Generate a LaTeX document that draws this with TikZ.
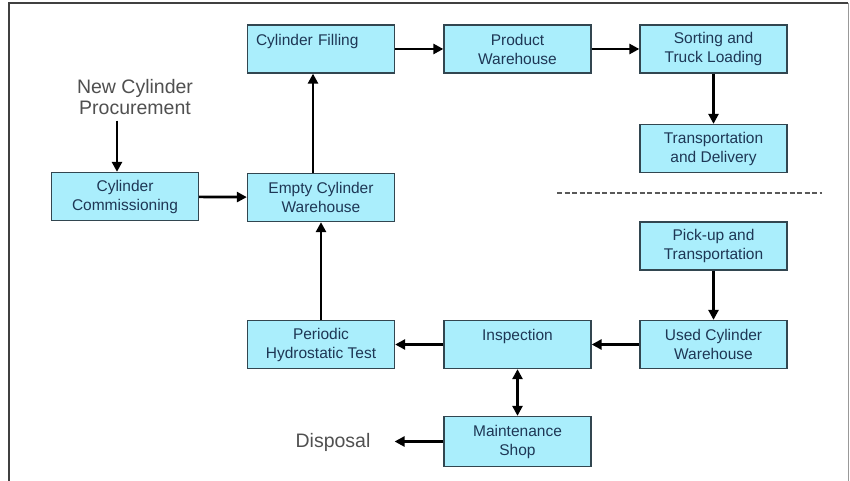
\documentclass[tikz,border=0pt]{standalone}
\usepackage{fontspec}
\setmainfont{Liberation Sans}
\usetikzlibrary{arrows.meta,calc}
\definecolor{boxfill}{RGB}{170,238,252}
\definecolor{boxedge}{RGB}{50,70,80}
\definecolor{boxtext}{RGB}{30,55,85}
\definecolor{plaintext}{RGB}{80,80,80}
\begin{document}
\begin{tikzpicture}[x=1pt,y=-1pt,
  box/.style={draw=boxedge, line width=1.3pt, fill=boxfill, minimum width=147pt, minimum height=48pt,
    inner sep=0pt, align=center, text=boxtext, font=\fontsize{15.5}{19}\selectfont},
  plain/.style={text=plaintext, align=center, font=\fontsize{19.5}{20.5}\selectfont, inner sep=0pt},
  tip/.tip={Triangle[length=10pt,width=10pt]},
  arr/.style={line width=2.7pt, -tip},
  darr/.style={line width=2.7pt, tip-tip},
  sep/.style={line width=2.2pt, black!65, dash pattern=on 5pt off 2.5pt}]
\useasboundingbox (0,0) rectangle (850,481);
\fill[white] (0,0) rectangle (850,481);
% frame
\draw[line width=1.5pt, black!75] (9,481) -- (9,3) -- (848,3);
\draw[line width=1pt, black!40] (848,3) -- (848,481);
% boxes
\node[box, text width=130pt, align=left] (fill) at (321,49) {Cylinder Filling\\\mbox{}};
\node[box] (prod) at (517.5,49) {Product\\Warehouse};
\node[box] (sort) at (713.5,49) {Sorting and\\Truck Loading};
\node[box] (trans) at (713.5,148.5) {Transportation\\and Delivery};
\node[box] (pick) at (713.5,246) {Pick-up and\\Transportation};
\node[box] (used) at (713.5,344.5) {Used Cylinder\\Warehouse};
\node[box] (insp) at (517.5,344.5) {Inspection\\\mbox{}};
\node[box, minimum height=50pt] (maint) at (517.5,441.5) {Maintenance\\Shop};
\node[box] (hydro) at (321,344.5) {Periodic\\Hydrostatic Test};
\node[box] (empty) at (321,197.5) {Empty Cylinder\\Warehouse};
\node[box] (comm) at (125,196.5) {Cylinder\\Commissioning};
\node[plain] (proc) at (135,97) {New Cylinder\\Procurement};
\node[plain] (disp) at (333,442) {Disposal};
% separator
\draw[sep] (557,193) -- (822,193);
% connectors
\draw[arr] (fill) -- (prod);
\draw[arr] (prod) -- (sort);
\draw[arr] (sort) -- (trans);
\draw[arr] (pick) -- (used);
\draw[arr] (used) -- (insp);
\draw[arr] (insp) -- (hydro);
\draw[darr] (insp) -- (maint);
\draw[arr, shorten >=24pt] (maint.west) -- (disp.east |- maint.west);
\draw[arr] (hydro) -- (empty);
\draw[arr] ([xshift=-8pt]empty.north) -- ([xshift=-8pt]fill.south);
\draw[arr] (comm) -- (empty);
\draw[arr, shorten <=6pt] ([xshift=-8pt]comm.north |- proc.south) -- ([xshift=-8pt]comm.north);
\end{tikzpicture}
\end{document}
